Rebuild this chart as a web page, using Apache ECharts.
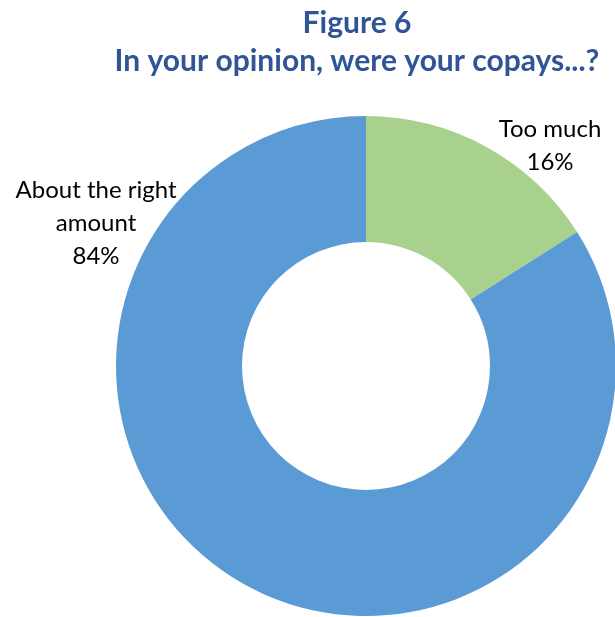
<!DOCTYPE html>
<html>
<head>
<meta charset="utf-8">
<script src="https://cdn.jsdelivr.net/npm/echarts@6/dist/echarts.min.js"></script>
<style>
  html, body { margin: 0; padding: 0; background: #ffffff; }
  #chart { width: 615px; height: 617px; }
</style>
</head>
<body>
<div id="chart"></div>
<script>
// Survey answers: share of respondents per opinion on copays
const categories = ['Too much', 'About the right amount'];
const shares = [16, 84];
const sliceColors = ['#A9D18E', '#5B9BD5'];

// Label display text (line breaks for the longer answer)
const labelLines = {
  'Too much': 'Too much',
  'About the right amount': 'About the right\namount'
};

// Where each slice label sits (text block centre)
const labelSpots = [
  { x: 550, y: 146 },
  { x: 96, y: 223 }
];

const chart = echarts.init(document.getElementById('chart'), null, { renderer: 'canvas' });

chart.setOption({
  animation: false,
  backgroundColor: '#ffffff',
  title: {
    text: 'Figure 6\nIn your opinion, were your copays...?',
    left: 357,
    top: 4,
    padding: 0,
    textAlign: 'center',
    textStyle: {
      fontFamily: 'Lato',
      fontWeight: 'bold',
      fontSize: 30,
      lineHeight: 38,
      color: '#2F5597'
    }
  },
  series: [{
    type: 'pie',
    center: [366, 366],
    radius: [124, 250],
    startAngle: 90,
    clockwise: true,
    avoidLabelOverlap: false,
    itemStyle: { borderWidth: 0 },
    emphasis: { disabled: true },
    labelLine: { show: false },
    label: {
      show: true,
      position: 'outside',
      formatter: p => labelLines[p.name] + '\n' + p.value + '%',
      fontFamily: 'Lato',
      fontSize: 24,
      lineHeight: 33,
      color: '#000000',
      align: 'center'
    },
    labelLayout: params => ({
      x: labelSpots[params.dataIndex].x,
      y: labelSpots[params.dataIndex].y,
      align: 'center',
      verticalAlign: 'middle'
    }),
    data: categories.map((name, i) => ({
      name: name,
      value: shares[i],
      itemStyle: { color: sliceColors[i] }
    }))
  }]
});
</script>
</body>
</html>
